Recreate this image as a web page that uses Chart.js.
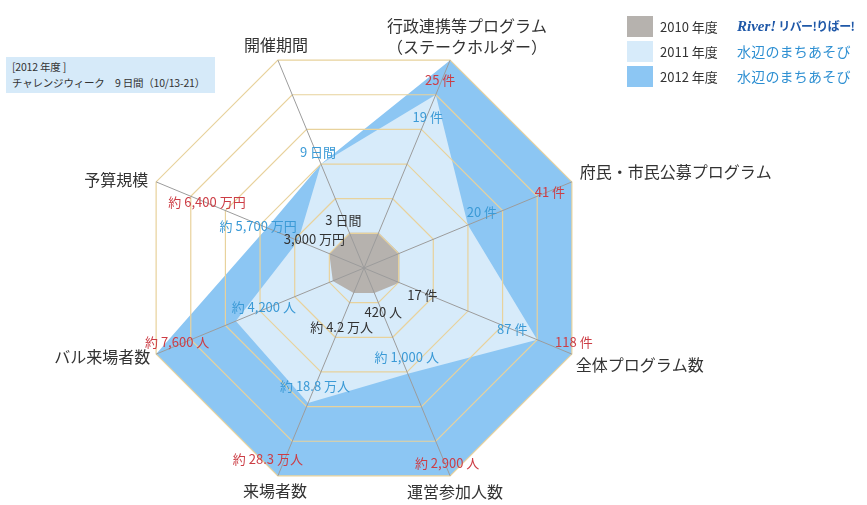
<!DOCTYPE html>
<html>
<head>
<meta charset="utf-8">
<script src="https://cdn.jsdelivr.net/npm/chart.js@4.4.1/dist/chart.umd.min.js"></script>
<style>
  body { margin: 0; background: #fff; font-family: "Noto Sans CJK JP", "Noto Sans", sans-serif; }
  #wrap { position: relative; width: 867px; height: 505px; }
  #c { position: absolute; left: 0; top: 0; }
  .note { position: absolute; left: 6px; top: 57px; width: 209px; height: 36px; background: #d6eaf9;
          font-size: 10.5px; color: #333; padding-left: 6px; line-height: 16px; box-sizing: border-box;
          padding-top: 2px; white-space: nowrap; letter-spacing: -0.2px; }
  .legend { position: absolute; left: 627px; top: 15px; }
  .row { position: relative; height: 25px; width: 240px; }
  .sw { position: absolute; left: 0; top: 1px; width: 26px; height: 21px; }
  .yr { position: absolute; left: 33px; top: 2px; font-size: 13px; color: #333; }
  .nm { position: absolute; left: 110px; top: 1px; white-space: nowrap; }
  .river { color: #1f58a8; font-weight: bold; font-size: 12px; letter-spacing: -0.6px; top: 2px; }
  .river i { font-family: "Liberation Serif", serif; font-size: 15px; letter-spacing: 0; }
  .mizu { color: #2d8fd2; font-size: 14px; letter-spacing: 0.2px; }
</style>
</head>
<body>
<div id="wrap">
  <canvas id="c" width="867" height="505"></canvas>
  <div class="note">[2012 年度 ]<br>チャレンジウィーク　9 日間（10/13-21）</div>
  <div class="legend">
    <div class="row"><div class="sw" style="background:#b6b2ae"></div><div class="yr">2010 年度</div><div class="nm river"><i>River!</i> リバー!りばー!</div></div>
    <div class="row"><div class="sw" style="background:#d7ebfa"></div><div class="yr">2011 年度</div><div class="nm mizu">水辺のまちあそび</div></div>
    <div class="row"><div class="sw" style="background:#8cc6f3"></div><div class="yr">2012 年度</div><div class="nm mizu">水辺のまちあそび</div></div>
  </div>
</div>
<script>
// axes, clockwise from the upper right
const axisLabels = [
  ["行政連携等プログラム", "（ステークホルダー）"],
  ["府民・市民公募プログラム"],
  ["全体プログラム数"],
  ["運営参加人数"],
  ["来場者数"],
  ["バル来場者数"],
  ["予算規模"],
  ["開催期間"]
];

// positions in grid rings (0..6)
const values2010 = [1.02, 1.02, 1.02, 0.72, 0.72, 0.9, 1.0, 1.02];
const values2011 = [5.0, 3.0, 5.0, 3.05, 3.9, 3.7, 1.9, 3.0];
const values2012 = [6, 6, 6, 6, 6, 6, 2.8, 3.0];

// value notes per axis
const notes2010 = ["", "", "17 件", "420 人", "約 4.2 万人", "", "3,000 万円", "3 日間"];
const notes2011 = ["19 件", "20 件", "87 件", "約 1,000 人", "約 18.8 万人", "約 4,200 人", "約 5,700 万円", "9 日間"];
const notes2012 = ["25 件", "41 件", "118 件", "約 2,900 人", "約 28.3 万人", "約 7,600 人", "約 6,400 万円", ""];

// label placement (pixel nudges)
const noteOffsets = [
  [[0, 0], [0, 0], [23, 12], [9, 19], [-12, 34], [0, 0], [-15, -15], [-6, -13]],
  [[-8, 22], [14, -13], [-25, -11], [-1, -17], [7, -17], [28, -14], [-40, -15], [-3, -12]],
  [[-10, 20], [-22, 10], [2, -12], [-3, -13], [-10, -17], [21, -12], [-60, -26], [0, 0]]
];
const noteColors = ["#333333", "#3b9ad6", "#cc3d45"];
const axisOffsets = [[17, -34], [8, -10], [4, 11], [5, 16], [-3, 15], [-6, 3], [-8, -2], [-2, -15]];
const axisAlign = ["center", "left", "left", "center", "center", "right", "right", "center"];

const labelsPlugin = {
  id: "labelsPlugin",
  afterDraw(chart) {
    const ctx = chart.ctx;
    const scale = chart.scales.r;
    ctx.save();
    ctx.textBaseline = "middle";
    ctx.font = '16px "Noto Sans CJK JP"';
    ctx.fillStyle = "#333";
    axisLabels.forEach((lines, i) => {
      const p = scale.getPointPosition(i, scale.drawingArea);
      ctx.textAlign = axisAlign[i];
      lines.forEach((t, k) => {
        ctx.fillText(t, p.x + axisOffsets[i][0], p.y + axisOffsets[i][1] + k * 21);
      });
    });
    const notes = [notes2010, notes2011, notes2012];
    const vals = [values2010, values2011, values2012];
    ctx.font = '13px "Noto Sans CJK JP"';
    ctx.textAlign = "center";
    notes.forEach((arr, d) => {
      ctx.fillStyle = noteColors[d];
      arr.forEach((t, i) => {
        if (!t) return;
        const p = scale.getPointPositionForValue(i, vals[d][i]);
        ctx.fillText(t, p.x + noteOffsets[d][i][0], p.y + noteOffsets[d][i][1]);
      });
    });
    ctx.restore();
  }
};

new Chart(document.getElementById("c"), {
  type: "radar",
  data: {
    labels: axisLabels.map(l => l.join("")),
    datasets: [
      { label: "2010 年度", data: values2010, backgroundColor: "#b6b2ae", borderWidth: 0, fill: "origin", pointRadius: 0 },
      { label: "2011 年度", data: values2011, backgroundColor: "#d7ebfa", borderWidth: 0, fill: "origin", pointRadius: 0 },
      { label: "2012 年度", data: values2012, backgroundColor: "#8cc6f3", borderWidth: 0, fill: "origin", pointRadius: 0 }
    ]
  },
  options: {
    responsive: false,
    animation: false,
    layout: { padding: { left: 0, right: 139, top: 43, bottom: 12 } },
    plugins: { legend: { display: false }, tooltip: { enabled: false } },
    elements: { line: { tension: 0 } },
    scales: {
      r: {
        min: 0,
        max: 6,
        startAngle: 22.5,
        ticks: { display: false, stepSize: 1 },
        pointLabels: { display: false },
        grid: { circular: false, color: "#e8d29c", lineWidth: 1.2, z: 1 },
        angleLines: { color: "#9c9c9c", lineWidth: 1 }
      }
    }
  },
  plugins: [labelsPlugin]
});
</script>
</body>
</html>
